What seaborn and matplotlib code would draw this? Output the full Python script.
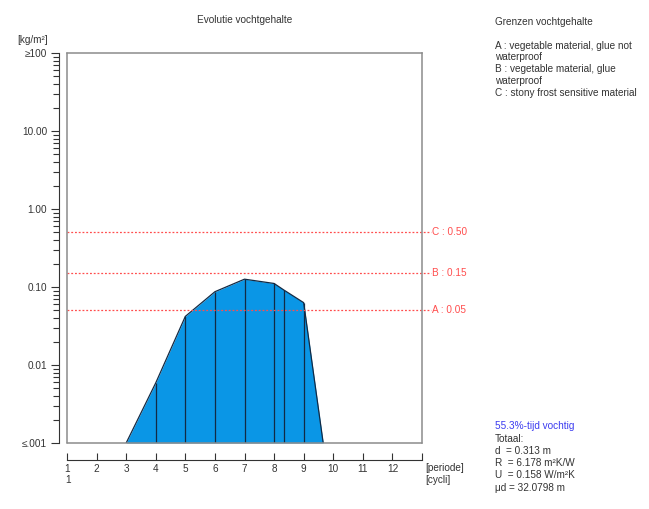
import matplotlib
matplotlib.use("Agg")
import matplotlib.pyplot as plt
import matplotlib.transforms as mtransforms
from matplotlib.ticker import FixedLocator, LogLocator, NullFormatter
import seaborn as sns

# data
periode = [3.0, 4.0, 5.0, 6.0, 7.0, 8.0, 8.34, 9.0, 9.66]
vocht = [0.001, 0.0059, 0.042, 0.087, 0.126, 0.111, 0.091, 0.063, 0.001]
grens_labels = ["A", "B", "C"]
grens_values = [0.05, 0.15, 0.50]
x_ticks = list(range(1, 14))
x_labels = [str(i) for i in range(1, 13)] + [""]
y_major = [0.001, 0.01, 0.1, 1, 10, 100]
y_labels = ["≤.001", "0.01", "0.10", "1.00", "10.00", "≥100"]
legend_lines = ["Grenzen vochtgehalte", "",
                "A : vegetable material, glue not", "waterproof",
                "B : vegetable material, glue", "waterproof",
                "C : stony frost sensitive material"]
totaal_lines = ["Totaal:", "d  = 0.313 m", "R  = 6.178 m²K/W",
                "U  = 0.158 W/m²K", "μd = 32.0798 m"]
vochtig_text = "55.3%-tijd vochtig"

sns.set_theme(style="white")
plt.rcParams['font.family'] = ['Liberation Sans', 'DejaVu Sans']
FS = 7.2
TXT = '#333333'
BOX = '#8c8c8c'
FILL = '#0a96e6'
EDGE = '#122a44'
RED = '#ff4d4d'

W, H = 649, 509
fig = plt.figure(figsize=(W / 100, H / 100), dpi=100)
ax = fig.add_axes([67 / W, 1 - 443 / H, 355 / W, 390 / H])
ax.set_yscale('log')
ax.set_xlim(1, 13)
ax.set_ylim(0.001, 100)

# area
ax.fill_between(periode, 0.001, vocht, color=FILL, lw=0)
sns.lineplot(x=periode, y=vocht, ax=ax, color=EDGE, lw=0.9, sort=False, estimator=None)
ax.vlines(periode[1:-1], 0.001, vocht[1:-1], color=EDGE, lw=0.9)

# limits
trans = mtransforms.blended_transform_factory(ax.transAxes, ax.transData)
for lab, v in zip(grens_labels, grens_values):
    ax.plot([0, 1.026], [v, v], transform=trans, color=RED, lw=0.9,
            ls=(0, (1.5, 1.5)), clip_on=False)
    ax.text(1.029, v, f"{lab} : {v:.2f}", transform=trans, color=RED,
            fontsize=FS, va='center', ha='left')

# box and separate axes
for s in ['top', 'right']:
    ax.spines[s].set_color(BOX)
    ax.spines[s].set_linewidth(1.1)
ax.axvline(1, color=BOX, lw=1.1, clip_on=False)
ax.axhline(0.001, color=BOX, lw=1.1, clip_on=False)
ax.spines['left'].set_position(('outward', 5.5))
ax.spines['bottom'].set_position(('outward', 12.5))
for s in ['left', 'bottom']:
    ax.spines[s].set_color(TXT)
    ax.spines[s].set_linewidth(0.8)

ax.yaxis.set_major_locator(FixedLocator(y_major))
ax.set_yticklabels(y_labels)
ax.yaxis.set_minor_locator(LogLocator(base=10, subs=range(2, 10)))
ax.yaxis.set_minor_formatter(NullFormatter())
ax.tick_params(axis='y', which='major', direction='out', length=5.8, width=0.8,
               color=TXT, labelsize=FS, labelcolor=TXT, pad=3, left=True)
ax.tick_params(axis='y', which='minor', direction='out', length=4.5, width=0.8,
               color=TXT, left=True)

ax.set_xticks(x_ticks)
ax.set_xticklabels(x_labels)
ax.tick_params(axis='x', which='major', direction='in', length=5, width=0.8,
               color=TXT, labelsize=FS, labelcolor=TXT, pad=2.5, bottom=True)
ax.set_xlabel("")
ax.set_ylabel("")

# texts
fig.text(245 / W, 1 - 20 / H, "Evolutie vochtgehalte", ha='center', va='center',
         fontsize=FS, color=TXT)
fig.text(17 / W, 1 - 40 / H, "[kg/m²]", ha='left', va='center', fontsize=FS, color=TXT)
fig.text(425 / W, 1 - 468 / H, "[periode]", ha='left', va='center', fontsize=FS, color=TXT)
fig.text(425 / W, 1 - 480 / H, "[cycli]", ha='left', va='center', fontsize=FS, color=TXT)
fig.text(68 / W, 1 - 480 / H, "1", ha='center', va='center', fontsize=FS, color=TXT)

for i, line in enumerate(legend_lines):
    fig.text(495 / W, 1 - (22 + i * 11.8) / H, line, ha='left', va='center',
             fontsize=FS, color=TXT)

fig.text(495 / W, 1 - 426 / H, vochtig_text, ha='left', va='center',
         fontsize=FS, color='#3c3cf0')
for i, line in enumerate(totaal_lines):
    fig.text(495 / W, 1 - (438.5 + i * 12.3) / H, line, ha='left', va='center',
             fontsize=FS, color=TXT)

fig.savefig("out.png", dpi=100, facecolor='white')
